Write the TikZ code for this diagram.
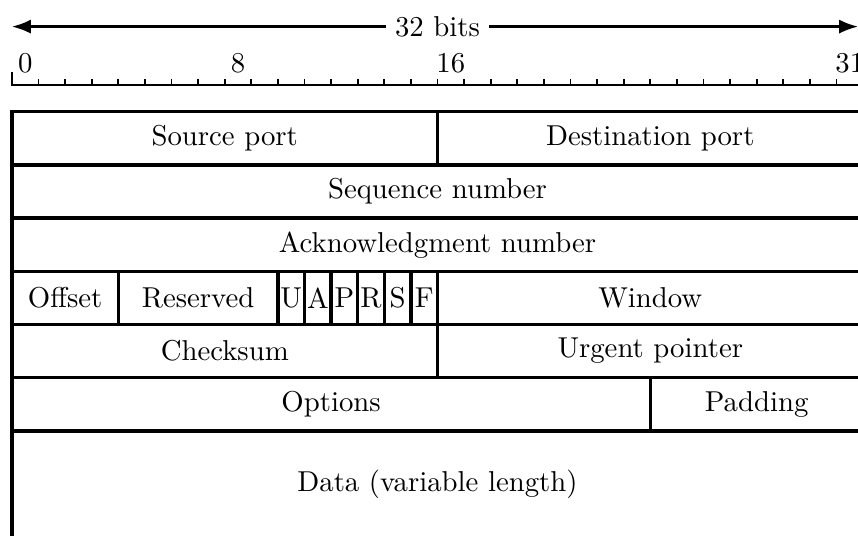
\documentclass[tikz,border=0pt]{standalone}
\usepackage{tikz}
\usetikzlibrary{arrows.meta}
\usetikzlibrary{positioning}
\tikzset{
% Define standard arrow tip
>={Latex}
}
\newcommand{\bitw}{0.325cm}

\begin{document}
\begin{tikzpicture}[x=0.325cm, y=0.325cm,
    field/.style={rectangle, draw=black, line width=1.2pt,
      anchor=north west, inner sep=0, outer sep=0,
      minimum height=2*\bitw}]
  \useasboundingbox (-0.45,-15.92) rectangle (31.81,4.2);

  % width arrow
  \coordinate (arrowL) at (0,3.2);
  \coordinate (arrowR) at (31.81,3.2);
  \draw[<->, line width=0.8pt] (arrowL) -- (arrowR);
  \node[fill=white, inner sep=0.3em] (bitslabel) at (16,3.2) {32 bits};

  % ruler
  \draw[line width=0.8pt] (0,1.5) -- (0,1) -- (32,1);
  \foreach \i in {1,...,31}
    \draw[line width=0.6pt] (\i,1) -- (\i,1.22);
  \foreach \i in {0,8,16,31}
    \node[anchor=base, inner sep=0] (bit\i) at (\i+0.5,1.47) {\i};

  % row 1
  \node[field, minimum width=16*\bitw] (srcport) at (0,0) {Source port};
  \node[field, minimum width=16*\bitw] (dstport) at (srcport.north east) {Destination port};
  % row 2, 3
  \node[field, minimum width=32*\bitw] (seqnum) at (srcport.south west) {Sequence number};
  \node[field, minimum width=32*\bitw] (acknum) at (seqnum.south west) {Acknowledgment number};
  % row 4
  \node[field, minimum width=4*\bitw] (offset) at (acknum.south west) {Offset};
  \node[field, minimum width=6*\bitw] (reserved) at (offset.north east) {Reserved};
  \foreach \f [count=\i] in {U,A,P,R,S,F}
    \node[field, minimum width=\bitw] (flag\f) at (9+\i,-6) {\f};
  \node[field, minimum width=16*\bitw] (window) at (flagF.north east) {Window};
  % row 5
  \node[field, minimum width=16*\bitw] (checksum) at (offset.south west) {Checksum};
  \node[field, minimum width=16*\bitw] (urgptr) at (checksum.north east) {Urgent pointer};
  % row 6
  \node[field, minimum width=24*\bitw] (options) at (checksum.south west) {Options};
  \node[field, minimum width=8*\bitw] (padding) at (options.north east) {Padding};
  % data
  \node[field, minimum width=32*\bitw, minimum height=4*\bitw] (data) at (options.south west) {Data (variable length)};
\end{tikzpicture}
\end{document}
